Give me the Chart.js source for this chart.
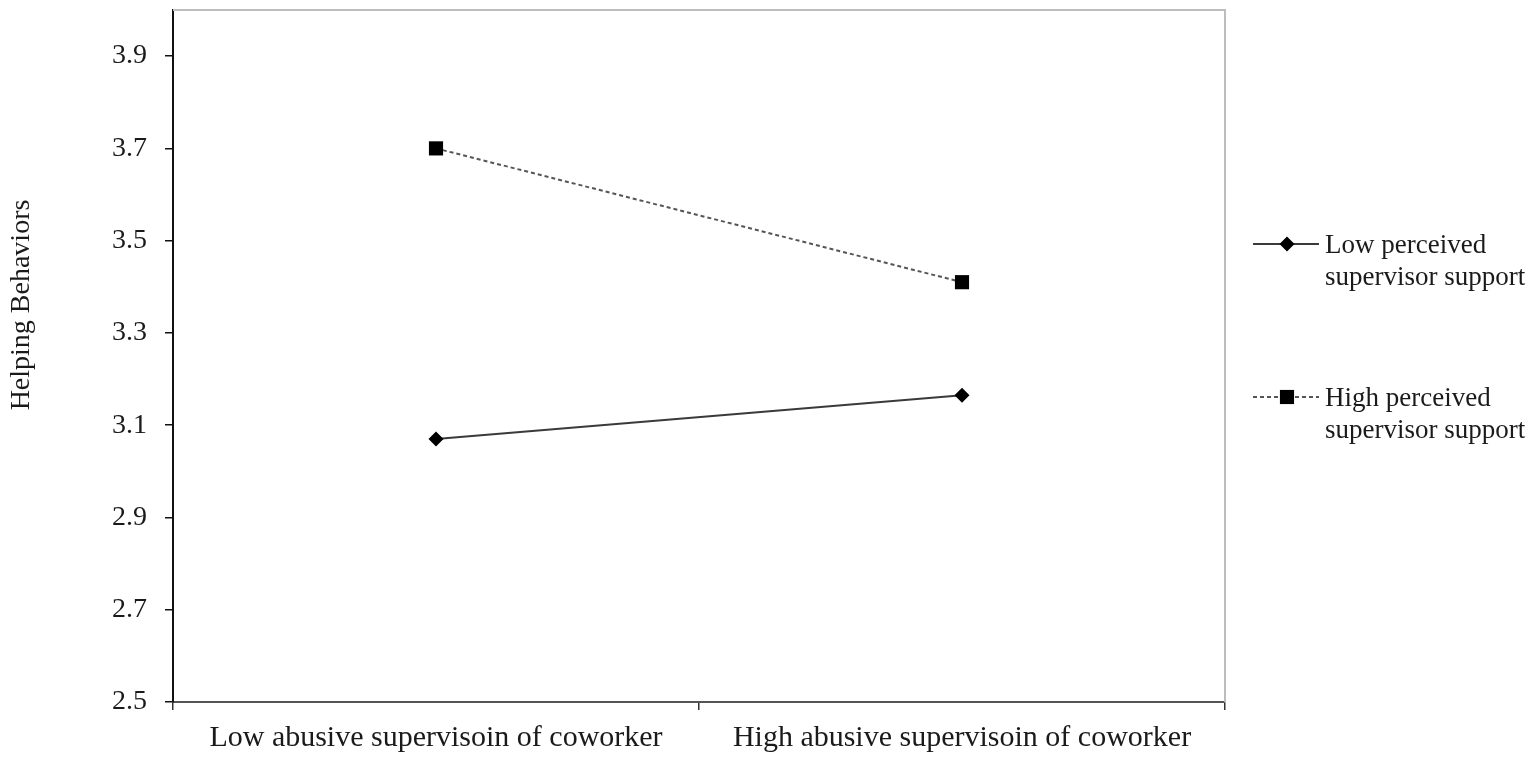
<!DOCTYPE html>
<html><head><meta charset="utf-8">
<script src="https://cdn.jsdelivr.net/npm/chart.js@4.4.0/dist/chart.umd.min.js"></script>
<style>html,body{margin:0;padding:0;background:#fff;}</style>
</head><body>
<canvas id="c" width="1535" height="762" style="display:block;width:1535px;height:762px"></canvas>
<script>
const categories = ["Low abusive supervisoin of coworker", "High abusive supervisoin of coworker"];
const lowPSS = [3.07, 3.165];
const highPSS = [3.70, 3.41];
const seriesNames = [["Low perceived", "supervisor support"], ["High perceived", "supervisor support"]];
const yTicks = [2.5, 2.7, 2.9, 3.1, 3.3, 3.5, 3.7, 3.9];
const yMin = 2.5, yMax = 4.0;
const yTitle = "Helping Behaviors";

const FONT = "'Liberation Serif', 'Times New Roman', serif";
const TXT = '#1a1a1a';

function drawMarker(ctx, style, x, y, r) {
  ctx.save();
  ctx.fillStyle = '#000';
  ctx.beginPath();
  if (style === 'rect') {
    const s = Math.SQRT1_2 * r;
    ctx.rect(x - s, y - s, 2 * s, 2 * s);
  } else {
    ctx.moveTo(x, y - r); ctx.lineTo(x + r, y); ctx.lineTo(x, y + r); ctx.lineTo(x - r, y); ctx.closePath();
  }
  ctx.fill();
  ctx.restore();
}

const framePlugin = {
  id: 'frame',
  beforeDatasetsDraw(chart) {
    const {ctx, chartArea: a} = chart;
    ctx.save();
    ctx.strokeStyle = '#bdbdbd';
    ctx.lineWidth = 2;
    ctx.beginPath();
    ctx.moveTo(a.left, a.top);
    ctx.lineTo(a.right, a.top);
    ctx.lineTo(a.right, a.bottom);
    ctx.stroke();
    ctx.restore();
  },
  afterDraw(chart) {
    const {ctx} = chart;
    ctx.save();
    ctx.fillStyle = TXT;
    ctx.font = '28px ' + FONT;
    ctx.textAlign = 'center';
    ctx.textBaseline = 'middle';
    ctx.translate(22, 305);
    ctx.rotate(-Math.PI / 2);
    ctx.fillText(yTitle, 0, 0);
    ctx.restore();
    const ys = [244, 397];
    chart.data.datasets.forEach((ds, i) => {
      const y = ys[i];
      ctx.save();
      ctx.strokeStyle = ds.borderColor;
      ctx.lineWidth = ds.borderWidth;
      ctx.setLineDash(ds.borderDash || []);
      ctx.beginPath();
      ctx.moveTo(1253, y);
      ctx.lineTo(1319, y);
      ctx.stroke();
      ctx.restore();
      drawMarker(ctx, ds.pointStyle, 1287, y, ds.pointRadius);
      ctx.save();
      ctx.fillStyle = TXT;
      ctx.font = '27px ' + FONT;
      ctx.textAlign = 'left';
      ctx.textBaseline = 'alphabetic';
      seriesNames[i].forEach((line, j) => ctx.fillText(line, 1325, y + 9 + j * 32));
      ctx.restore();
    });
  }
};

new Chart(document.getElementById('c'), {
  type: 'line',
  data: {
    labels: categories,
    datasets: [
      {
        label: seriesNames[0].join(' '),
        data: lowPSS,
        borderColor: '#3a3a3a',
        borderWidth: 2,
        pointStyle: 'rectRot',
        pointRadius: 7.5,
        pointBackgroundColor: '#000',
        pointBorderColor: '#000',
        pointBorderWidth: 0,
        tension: 0
      },
      {
        label: seriesNames[1].join(' '),
        data: highPSS,
        borderColor: '#555',
        borderWidth: 2,
        borderDash: [4, 3],
        pointStyle: 'rect',
        pointRadius: 10,
        pointBackgroundColor: '#000',
        pointBorderColor: '#000',
        pointBorderWidth: 0,
        tension: 0
      }
    ]
  },
  options: {
    responsive: false,
    animation: false,
    devicePixelRatio: 1,
    layout: {padding: {top: 8, right: 310, left: 0, bottom: 0}},
    plugins: {legend: {display: false}, tooltip: {enabled: false}},
    scales: {
      x: {
        type: 'category',
        offset: true,
        grid: {display: true, offset: true, drawOnChartArea: false, drawTicks: true, tickLength: 8, color: '#333', lineWidth: 1.5},
        border: {display: true, color: '#555', width: 2},
        ticks: {color: TXT, font: {family: FONT, size: 30}, padding: 10, maxRotation: 0, autoSkip: false},
        afterFit(scale) { scale.height = 60; scale.paddingLeft = 0; scale.paddingRight = 0; }
      },
      y: {
        min: yMin,
        max: yMax,
        afterBuildTicks(scale) { scale.ticks = yTicks.map(v => ({value: v})); },
        grid: {display: true, drawOnChartArea: false, drawTicks: true, tickLength: 8, color: '#111', lineWidth: 1.5},
        border: {display: true, color: '#111', width: 2},
        ticks: {color: TXT, font: {family: FONT, size: 28}, padding: 18, callback: v => v.toFixed(1)},
        afterFit(scale) { scale.width = 173; scale.paddingTop = 0; scale.paddingBottom = 0; }
      }
    }
  },
  plugins: [framePlugin]
});
</script>
</body></html>
